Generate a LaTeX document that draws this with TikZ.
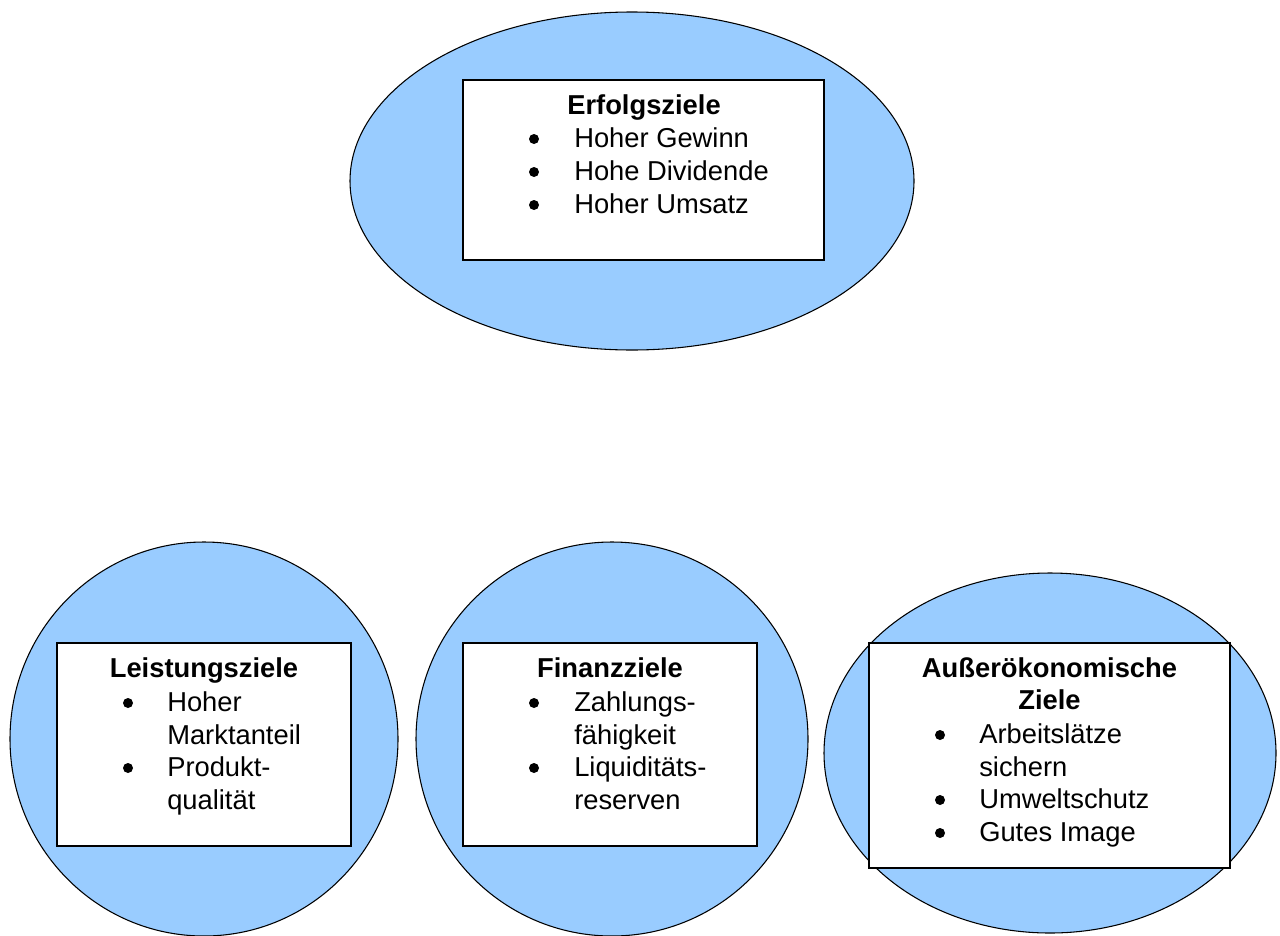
\documentclass[tikz,border=0pt]{standalone}
\usepackage{fontspec}
\setmainfont{Liberation Sans}
\usetikzlibrary{shapes.geometric}

\definecolor{goalblue}{HTML}{99CCFF}

\tikzset{
  goalshape/.style={ellipse, draw=black, fill=goalblue, line width=0.8pt,
    inner sep=0pt, outer sep=0pt},
  goalbox/.style={rectangle, draw=black, fill=white, line width=1.3pt,
    inner sep=0pt, outer sep=0pt},
  heading/.style={anchor=base, inner sep=0pt, font=\fontsize{20.5}{25}\selectfont\bfseries},
  item/.style={anchor=base west, inner sep=0pt, font=\fontsize{20.5}{25}\selectfont},
  dot/.style={circle, fill=black, inner sep=0pt, minimum size=10*0.75pt},
}

\begin{document}
\begin{tikzpicture}[x=0.75pt, y=-0.75pt]
\useasboundingbox (0,0) rectangle (1280,935);

% top: Erfolgsziele
\node[goalshape, minimum width=564*0.75pt, minimum height=338*0.75pt] (e1) at (632,181) {};
\node[goalbox, minimum width=361*0.75pt, minimum height=180*0.75pt] (b1) at (643.5,170) {};
\node[heading] (t1) at (644,114) {Erfolgsziele};
\node[dot] (d11) at (534,139) {};
\node[item] (i11) at (574,147) {Hoher Gewinn};
\node[dot] (d12) at (534,172) {};
\node[item] (i12) at (574,180) {Hohe Dividende};
\node[dot] (d13) at (534,205) {};
\node[item] (i13) at (574,213) {Hoher Umsatz};

% bottom left: Leistungsziele
\node[goalshape, minimum width=388*0.75pt, minimum height=394*0.75pt] (e2) at (204,739) {};
\node[goalbox, minimum width=294*0.75pt, minimum height=203*0.75pt] (b2) at (204,744.5) {};
\node[heading] (t2) at (204,677) {Leistungsziele};
\node[dot] (d21) at (128,703) {};
\node[item] (i21) at (167,711) {Hoher};
\node[item] (i22) at (167,744) {Marktanteil};
\node[dot] (d22) at (128,768) {};
\node[item] (i23) at (167,776) {Produkt-};
\node[item] (i24) at (167,809) {qualität};

% bottom middle: Finanzziele
\node[goalshape, minimum width=392*0.75pt, minimum height=394*0.75pt] (e3) at (612,739) {};
\node[goalbox, minimum width=294*0.75pt, minimum height=203*0.75pt] (b3) at (610,744.5) {};
\node[heading] (t3) at (610,677) {Finanzziele};
\node[dot] (d31) at (534,703) {};
\node[item] (i31) at (574,711) {Zahlungs-};
\node[item] (i32) at (574,744) {fähigkeit};
\node[dot] (d32) at (534,768) {};
\node[item] (i33) at (574,776) {Liquiditäts-};
\node[item] (i34) at (574,809) {reserven};

% bottom right: Außerökonomische Ziele
\node[goalshape, minimum width=452*0.75pt, minimum height=360*0.75pt] (e4) at (1050,753) {};
\node[goalbox, minimum width=361*0.75pt, minimum height=225*0.75pt] (b4) at (1049.5,755.5) {};
\node[heading] (t4) at (1049.5,677) {Außerökonomische};
\node[heading] (t5) at (1049.5,709) {Ziele};
\node[dot] (d41) at (940,735) {};
\node[item] (i41) at (979,743) {Arbeitslätze};
\node[item] (i42) at (979,776) {sichern};
\node[dot] (d42) at (940,800) {};
\node[item] (i43) at (979,808) {Umweltschutz};
\node[dot] (d43) at (940,833) {};
\node[item] (i44) at (979,841) {Gutes Image};
\end{tikzpicture}
\end{document}
